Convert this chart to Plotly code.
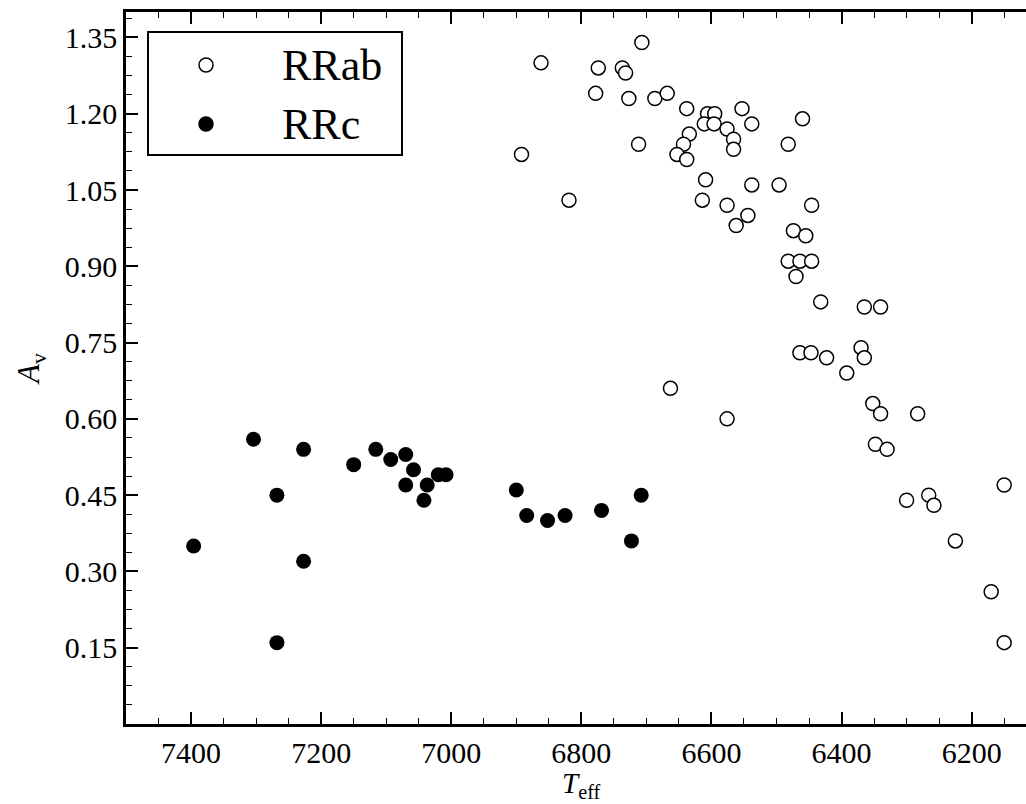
import plotly.graph_objects as go

# ---------------- data ----------------
rrab_teff = [6707, 6862, 6774, 6737, 6732, 6778, 6727, 6687, 6668, 6638,
             6606, 6595, 6611, 6596, 6553, 6576, 6538, 6566, 6566, 6634,
             6643, 6653, 6638, 6712, 6892, 6460, 6482, 6819, 6609, 6614,
             6576, 6538, 6496, 6544, 6562, 6446, 6474, 6455, 6482, 6464,
             6446, 6470, 6432, 6365, 6340, 6464, 6447, 6423, 6370, 6365,
             6392, 6663, 6576, 6352, 6340, 6283, 6348, 6330, 6150, 6300,
             6266, 6258, 6225, 6170, 6150]
rrab_av = [1.34, 1.30, 1.29, 1.29, 1.28, 1.24, 1.23, 1.23, 1.24, 1.21,
           1.20, 1.20, 1.18, 1.18, 1.21, 1.17, 1.18, 1.15, 1.13, 1.16,
           1.14, 1.12, 1.11, 1.14, 1.12, 1.19, 1.14, 1.03, 1.07, 1.03,
           1.02, 1.06, 1.06, 1.00, 0.98, 1.02, 0.97, 0.96, 0.91, 0.91,
           0.91, 0.88, 0.83, 0.82, 0.82, 0.73, 0.73, 0.72, 0.74, 0.72,
           0.69, 0.66, 0.60, 0.63, 0.61, 0.61, 0.55, 0.54, 0.47, 0.44,
           0.45, 0.43, 0.36, 0.26, 0.16]

rrc_teff = [7396, 7304, 7268, 7268, 7227, 7227, 7150, 7116, 7093, 7070,
            7070, 7058, 7037, 7042, 7020, 7008, 6900, 6884, 6852, 6825,
            6769, 6723, 6708]
rrc_av = [0.35, 0.56, 0.45, 0.16, 0.54, 0.32, 0.51, 0.54, 0.52, 0.53,
          0.47, 0.50, 0.47, 0.44, 0.49, 0.49, 0.46, 0.41, 0.40, 0.41,
          0.42, 0.36, 0.45]

series_names = ["RRab", "RRc"]
x_tick_vals = [7400, 7200, 7000, 6800, 6600, 6400, 6200]
y_tick_vals = [0.15, 0.30, 0.45, 0.60, 0.75, 0.90, 1.05, 1.20, 1.35]
x_title = "<i>T</i><sub>eff</sub>"
y_title = "<i>A</i><sub>v</sub>"

# ---------------- layout geometry ----------------
W, H = 1026, 804
ML, MR, MT, MB = 126, 0, 12, 80
PW, PH = W - ML - MR, H - MT - MB
PX_PER_K = 0.6505
X_LEFT = 7500
X_RIGHT = X_LEFT - PW / PX_PER_K

FONT = "Liberation Serif"


def pxx(px):
    return (px - ML) / PW


def pxy(py):
    return (H - MB - py) / PH


fig = go.Figure()
fig.add_trace(go.Scatter(
    x=rrab_teff, y=rrab_av, mode="markers", name=series_names[0],
    marker=dict(symbol="circle", size=14, color="white",
                line=dict(color="black", width=1.5)),
    showlegend=False))
fig.add_trace(go.Scatter(
    x=rrc_teff, y=rrc_av, mode="markers", name=series_names[1],
    marker=dict(symbol="circle", size=15, color="black",
                line=dict(width=0)),
    showlegend=False))

axis_common = dict(
    showgrid=False, zeroline=False, showline=True, linecolor="black",
    linewidth=2.5, ticks="inside", ticklen=12, tickwidth=1.6,
    tickcolor="black", tickfont=dict(family=FONT, size=30, color="black"),
)

fig.update_xaxes(
    range=[X_LEFT, X_RIGHT], tickmode="array", tickvals=x_tick_vals,
    mirror="ticks",
    minor=dict(ticks="inside", dtick=50, tick0=0, ticklen=6, tickwidth=1.4,
               tickcolor="black", showgrid=False),
    **axis_common)
fig.update_yaxes(
    range=[0, 1.4], tickmode="array", tickvals=y_tick_vals, tickformat=".2f",
    minor=dict(ticks="inside", dtick=0.0375, tick0=0, ticklen=6,
               tickwidth=1.4, tickcolor="black", showgrid=False),
    title=dict(text=y_title, font=dict(family=FONT, size=31, color="black"),
               standoff=16),
    **axis_common)

# ---------------- hand-drawn legend (box, symbols, labels) ----------------
shapes = [dict(type="rect", xref="paper", yref="paper",
               x0=pxx(148), x1=pxx(402), y0=pxy(155), y1=pxy(32),
               line=dict(color="black", width=2), fillcolor="white",
               layer="above")]
legend_rows = [65, 124]
legend_fill = ["white", "black"]
for row, fill in zip(legend_rows, legend_fill):
    shapes.append(dict(type="circle", xref="paper", yref="paper",
                       xsizemode="pixel", ysizemode="pixel",
                       xanchor=pxx(206), yanchor=pxy(row),
                       x0=-7, x1=7, y0=-7, y1=7,
                       line=dict(color="black", width=1.5),
                       fillcolor=fill, layer="above"))
annotations = []
for row, name in zip(legend_rows, series_names):
    annotations.append(dict(xref="paper", yref="paper", x=pxx(280),
                            y=pxy(row), xanchor="left", yanchor="middle",
                            text=name, showarrow=False,
                            font=dict(family=FONT, size=44, color="black")))

# x-axis title as an annotation so it can sit right at the bottom edge
annotations.append(dict(xref="paper", yref="paper", x=pxx(581),
                        y=pxy(804), xanchor="center", yanchor="bottom",
                        text=x_title, showarrow=False, borderpad=0,
                        font=dict(family=FONT, size=29, color="black")))

fig.update_layout(
    width=W, height=H,
    margin=dict(l=ML, r=MR, t=MT, b=MB, pad=0),
    plot_bgcolor="white", paper_bgcolor="white",
    font=dict(family=FONT, color="black"),
    shapes=shapes, annotations=annotations,
    showlegend=False,
)

fig.write_html("out.html", config={"displayModeBar": False},
               post_script="document.body.style.margin='0';")
